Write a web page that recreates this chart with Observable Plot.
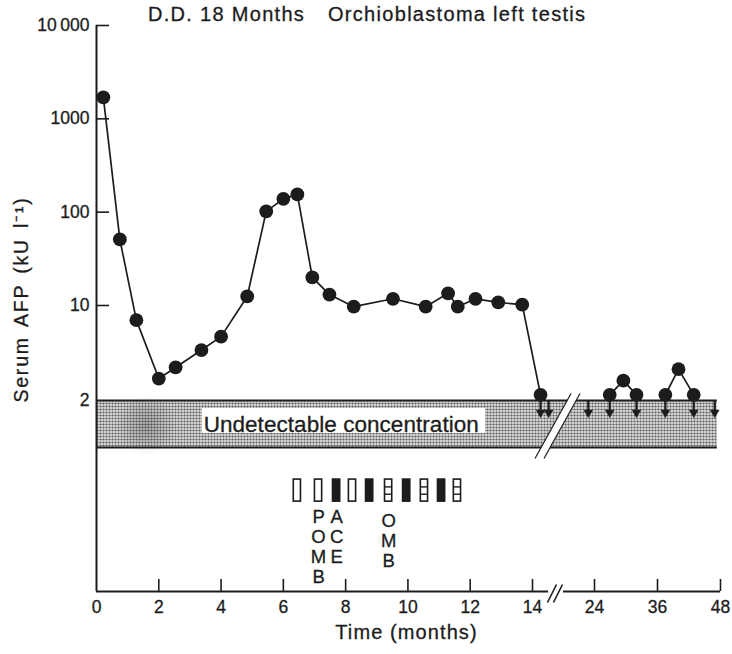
<!DOCTYPE html>
<html><head><meta charset="utf-8">
<script src="https://cdn.jsdelivr.net/npm/d3@7"></script>
<script src="https://cdn.jsdelivr.net/npm/@observablehq/plot@0.6"></script>
<style>
body{margin:0;background:#fff;}
#wrap{position:relative;width:732px;height:654px;}
.title{position:absolute;top:4.1px;font-family:'Liberation Sans',Arial,sans-serif;font-size:20px;line-height:20px;letter-spacing:1.3px;color:#1c1c1c;white-space:nowrap;-webkit-text-stroke:0.3px #1c1c1c;}
svg text{stroke:#1c1c1c;stroke-width:0.3px;}
</style></head><body>
<div id="wrap">
<div class="title" style="left:148px">D.D. 18 Months</div>
<div class="title" style="left:328px">Orchioblastoma left testis</div>
</div>
<script>
// ---- data ----
const mainMonths = [0.22, 0.75, 1.28, 2.0, 2.54, 3.37, 4.0, 4.84, 5.45, 6.0, 6.45, 6.93, 7.48, 8.26, 9.52, 10.57, 11.29, 11.6, 12.17, 12.9, 13.67, 15.3];
const mainAFP    = [1700, 51, 7.8, 2.9, 3.5, 4.7, 5.9, 12.5, 102, 139, 155, 20, 13.1, 9.8, 11.8, 9.8, 13.5, 9.8, 11.8, 10.8, 10.2, 2.2];
const lateMonths  = [26.9, 29.5, 32.0, 37.5, 40.0, 42.9];
const lateAFP     = [2.2, 2.8, 2.2, 2.2, 3.4, 2.2];
const lateEpisode = ["a", "a", "a", "b", "b", "b"];
const belowLimitMonths = [15.3, 16.6, 23.0, 26.9, 32.0, 37.5, 42.9, 46.9];
const detectionLimit = 2;
const yTickValues = [2, 10, 100, 1000, 10000];
const yTickLabels = ["2", "10", "100", "1000", "10\u2009000"];
const xTickValues = [0, 2, 4, 6, 8, 10, 12, 14, 24, 36, 48];
const courseMonths  = [6.45, 7.13, 7.71, 8.22, 8.77, 9.38, 9.96, 10.53, 11.08, 11.59];
const courseRegimen = ["open", "open", "filled", "open", "filled", "segmented", "filled", "segmented", "filled", "segmented"];
const regimenLabelMonths = [7.13, 7.71, 9.38];
const regimenLabelTexts  = ["POMB", "ACE", "OMB"];

// ---- layout anchors (in scale units) ----
const yBottom = 0.01, yTop = 10000;
const bandFloor = 0.543, bandEnd = 47.4;
const boxTop = 0.223, boxBottom = 0.121, boxSplits = [0.182, 0.1486];
const labelTops = [0.1, 0.1, 0.0895];

const ink = "#1c1c1c";
const font = "'Liberation Sans', Arial, sans-serif";
const yLabel = "Serum AFP (kU l\u207B\u00B9)";
const xLabel = "Time (months)";
const bandLabel = "Undetectable concentration";

const main = mainMonths.map((t, i) => ({t, v: mainAFP[i]}));
const late = lateMonths.map((t, i) => ({t, v: lateAFP[i], g: lateEpisode[i]}));
const courses = courseMonths.map((t, i) => ({t, kind: courseRegimen[i]}));
const splits = courses.filter(d => d.kind === "segmented").flatMap(d => boxSplits.map(y => ({t: d.t, y})));
const regimenLabels = regimenLabelMonths.map((t, i) => ({t, s: regimenLabelTexts[i].split("").join("\n"), top: labelTops[i]}));
const fmt = d => yTickLabels[yTickValues.indexOf(d)];

const chart = Plot.plot({
  width: 732, height: 654,
  marginTop: 25, marginRight: 12, marginBottom: 63, marginLeft: 96,
  style: {fontFamily: font, color: ink, background: "#fff", overflow: "visible"},
  x: {type: "linear", domain: [0, 14, 24, 48], range: [96, 532, 594, 720]},
  y: {type: "log", domain: [yBottom, 2, 10, yTop], range: [591, 400, 305, 25], axis: null},
  marks: [
    // undetectable band
    Plot.rect([detectionLimit], {x1: 0, x2: bandEnd, y1: bandFloor, y2: d => d, fill: "url(#stipple)"}),
    Plot.dot([0], {x: 1.6, y: 1.0, r: 30, fill: "url(#smudge)", stroke: "none"}),
    Plot.ruleY([detectionLimit, bandFloor], {y: d => d, x1: 0, x2: bandEnd, stroke: ink, strokeWidth: 2}),
    // time break across the band
    Plot.link([0], {x1: 15.13, y1: 0.4, x2: 20.94, y2: 2.25, stroke: "#fff", strokeWidth: 8}),
    Plot.link([0], {x1: 15.13, y1: 0.4, x2: 20.94, y2: 2.25, stroke: ink, strokeWidth: 1.2, dx: -4.5}),
    Plot.link([0], {x1: 15.13, y1: 0.4, x2: 20.94, y2: 2.25, stroke: ink, strokeWidth: 1.2, dx: 4.5}),
    // band label
    Plot.rect([0], {x1: 3.40, x2: 12.49, y1: 0.801, y2: 1.601, fill: "#fff"}),
    Plot.text([bandLabel], {x: 3.44, y: 1.03, textAnchor: "start", fontSize: 22.5, fill: ink}),
    // axes lines and ticks
    Plot.ruleX([0], {x: d => d, y1: yBottom, y2: yTop, stroke: ink, strokeWidth: 2}),
    Plot.ruleY([{a: 0, b: 16.6}, {a: 19.0, b: 48}], {y: yBottom, x1: "a", x2: "b", stroke: ink, strokeWidth: 2}),
    Plot.link([0], {x1: 16.9, y1: 0.00737, x2: 18.35, y2: 0.01214, stroke: ink, strokeWidth: 1.6, dx: -3}),
    Plot.link([0], {x1: 16.9, y1: 0.00737, x2: 18.35, y2: 0.01214, stroke: ink, strokeWidth: 1.6, dx: 3}),
    Plot.ruleX(xTickValues.filter(d => d > 0), {x: d => d, y1: yBottom, y2: yBottom, insetTop: -12, stroke: ink, strokeWidth: 1.6}),
    Plot.ruleY(yTickValues.filter(d => d > 2), {y: d => d, x1: 0, x2: 0, insetRight: -13, stroke: ink, strokeWidth: 1.6}),
    Plot.text(yTickValues, {frameAnchor: "left", y: d => d, text: fmt, textAnchor: "end", dx: -7, fontSize: 17.5, fill: ink}),
    Plot.axisX({ticks: xTickValues, tickSize: 0, tickPadding: 9, label: null, fontSize: 17.5}),
    Plot.text([yLabel], {frameAnchor: "left", textAnchor: "middle", rotate: -90, dx: -75, dy: -9, fontSize: 19.5, fill: ink}),
    Plot.text([xLabel], {frameAnchor: "bottom", textAnchor: "middle", dx: -2, dy: 47, fontSize: 20, fill: ink}),
    // below-detection arrows
    Plot.ruleX(belowLimitMonths, {x: d => d, y1: detectionLimit, y2: detectionLimit, insetBottom: -10, stroke: ink, strokeWidth: 2.2}),
    Plot.dot(belowLimitMonths, {x: d => d, y: detectionLimit, dy: 12, symbol: "triangle", rotate: 180, r: 3.6, fill: ink, stroke: "none"}),
    // AFP series
    Plot.line(main, {x: "t", y: "v", stroke: ink, strokeWidth: 1.7}),
    Plot.line(late, {x: "t", y: "v", z: "g", stroke: ink, strokeWidth: 1.7}),
    Plot.dot(main, {x: "t", y: "v", r: 6.9, fill: ink, stroke: "none"}),
    Plot.dot(late, {x: "t", y: "v", r: 6.9, fill: ink, stroke: "none"}),
    // chemotherapy courses
    Plot.rect(courses, {filter: d => d.kind !== "filled", x1: "t", x2: "t", y1: boxBottom, y2: boxTop, insetLeft: -3.6, insetRight: -3.6, fill: "#fff", stroke: ink, strokeWidth: 1.6}),
    Plot.rect(courses, {filter: d => d.kind === "filled", x1: "t", x2: "t", y1: boxBottom, y2: boxTop, insetLeft: -3.6, insetRight: -3.6, fill: ink, stroke: ink, strokeWidth: 1.6}),
    Plot.ruleY(splits, {y: "y", x1: "t", x2: "t", insetLeft: -3.6, insetRight: -3.6, stroke: ink, strokeWidth: 1.4}),
    Plot.text(regimenLabels, {x: "t", y: "top", text: "s", lineAnchor: "top", lineHeight: 1.08, fontSize: 18.5, fill: ink})
  ]
});

// stipple pattern and scan smudge for the undetectable band
const defs = d3.select(chart).insert("defs", ":first-child");
const pat = defs.append("pattern").attr("id", "stipple").attr("width", 3).attr("height", 3).attr("patternUnits", "userSpaceOnUse");
pat.append("rect").attr("width", 3).attr("height", 3).attr("fill", "#dcdcdc");
pat.append("circle").attr("cx", 1.5).attr("cy", 1.5).attr("r", 1.1).attr("fill", "#5c5c5c");
const grad = defs.append("radialGradient").attr("id", "smudge");
grad.append("stop").attr("offset", "0%").attr("stop-color", "#000").attr("stop-opacity", 0.22);
grad.append("stop").attr("offset", "100%").attr("stop-color", "#000").attr("stop-opacity", 0);

const spacing = {[yLabel]: ["1.8px", "3px"], [xLabel]: ["1.1px", "0px"], [bandLabel]: ["0.05px", "0px"]};
d3.select(chart).selectAll("text").each(function() {
  const s = spacing[this.textContent];
  if (s) d3.select(this).style("letter-spacing", s[0]).style("word-spacing", s[1]);
});

document.getElementById("wrap").appendChild(chart);
</script>
</body></html>
